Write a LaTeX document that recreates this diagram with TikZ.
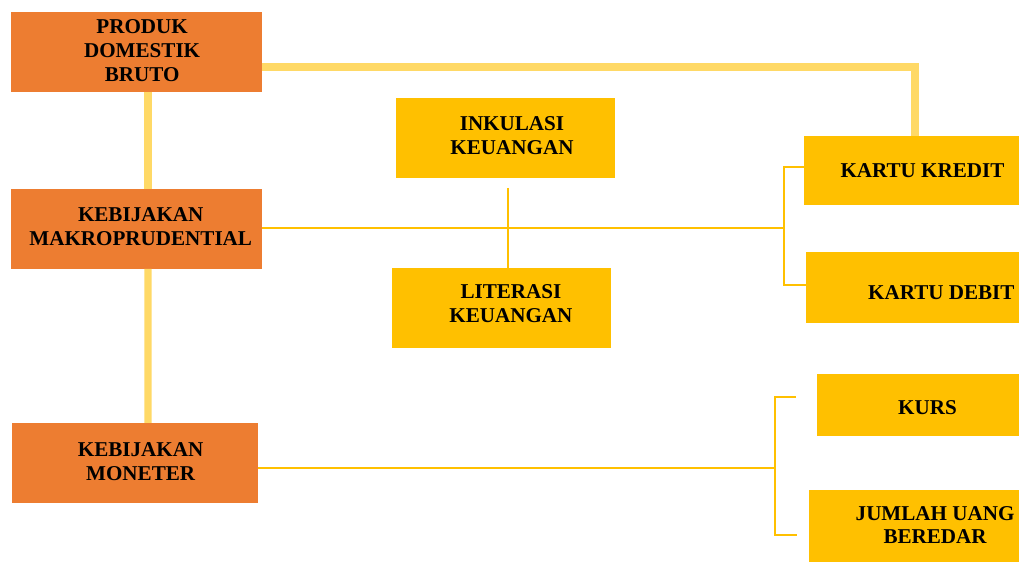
\documentclass[tikz,border=0pt]{standalone}
\usepackage{fontspec}
\setmainfont{Liberation Serif}
\usetikzlibrary{positioning}

\definecolor{oranye}{HTML}{ED7D31}
\definecolor{emas}{HTML}{FFC000}
\definecolor{kuningmuda}{HTML}{FFD966}

\begin{document}
\begin{tikzpicture}[x=0.025cm, y=-0.025cm,
	kotak/.style 2 args={minimum width=#1*0.025cm, minimum height=#2*0.025cm, inner sep=0pt, outer sep=0pt},
	oren/.style={fill=oranye},
	kuning/.style={fill=emas},
	teks/.style={font=\bfseries\fontsize{15}{17}\selectfont, align=center, inner sep=0pt},
	tebal/.style={draw=kuningmuda, line width=5pt},
	tipis/.style={draw=emas, line width=2pt},
	kurung/.style={draw=emas, line width=1.5pt}]
	\useasboundingbox (0,0) rectangle (1019,563);
	
	% kotak oranye di kiri
	\node[kotak={251}{80}, oren, label={[teks, xshift=4pt, yshift=0.7pt]center:PRODUK\\DOMESTIK\\BRUTO}] (pdb) at (136.5,52) {};
	\node[kotak={251}{80}, oren, label={[teks, xshift=3pt, yshift=1.4pt]center:KEBIJAKAN\\MAKROPRUDENTIAL}] (km) at (136.5,229) {};
	\node[kotak={246}{80}, oren, label={[teks, xshift=4pt, yshift=0.7pt]center:KEBIJAKAN\\MONETER}] (kmon) at (135,463) {};
	
	% kotak kuning di tengah
	\node[kotak={219}{80}, kuning, label={[teks, xshift=4.6pt, yshift=2pt]center:INKULASI\\KEUANGAN}] (ink) at (505.5,138) {};
	\node[kotak={219}{80}, kuning, label={[teks, xshift=6.7pt, yshift=2.8pt]center:LITERASI\\KEUANGAN}] (lit) at (501.5,308) {};
	
	% kotak kuning di kanan
	\node[kotak={215}{69}, kuning, label={[teks, xshift=7.8pt]center:KARTU KREDIT}] (kk) at (911.5,170.5) {};
	\node[kotak={213}{71}, kuning, label={[teks, xshift=20.5pt, yshift=-3.9pt]center:KARTU DEBIT}] (kd) at (912.5,287.5) {};
	\node[kotak={202}{62}, kuning, label={[teks, xshift=6.7pt, yshift=-2pt]center:KURS}] (kurs) at (918,405) {};
	\node[kotak={210}{72}, kuning, label={[teks, xshift=15pt, yshift=0.7pt]center:JUMLAH UANG\\BEREDAR}] (jub) at (914,526) {};
	
	\coordinate (c1) at (784,228);
	\coordinate (c2) at (775,468);
	\coordinate (t1) at (796,397);
	\coordinate (t2) at (797,535);
	\coordinate (i1) at (508,188);
	
	% garis tebal
	\draw[tebal] ([xshift=11.5*0.025cm]pdb.south) -- ([xshift=11.5*0.025cm]km.north);
	\draw[tebal] ([xshift=11.5*0.025cm]km.south) -- ([xshift=13*0.025cm]kmon.north);
	\draw[tebal] ([yshift=-15*0.025cm]pdb.east) -| ([xshift=3.5*0.025cm]kk.north);
	
	% garis tipis
	\draw[tipis] (km.east |- c1) -- (c1);
	\draw[kurung] ([yshift=3.5*0.025cm]kk.west) -| (c1) |- ([yshift=2.5*0.025cm]kd.west);
	\draw[tipis] (i1) -- (i1 |- lit.north);
	\draw[tipis] (kmon.east |- c2) -- (c2);
	\draw[kurung] (t1) -| (c2) |- (t2);
\end{tikzpicture}
\end{document}
